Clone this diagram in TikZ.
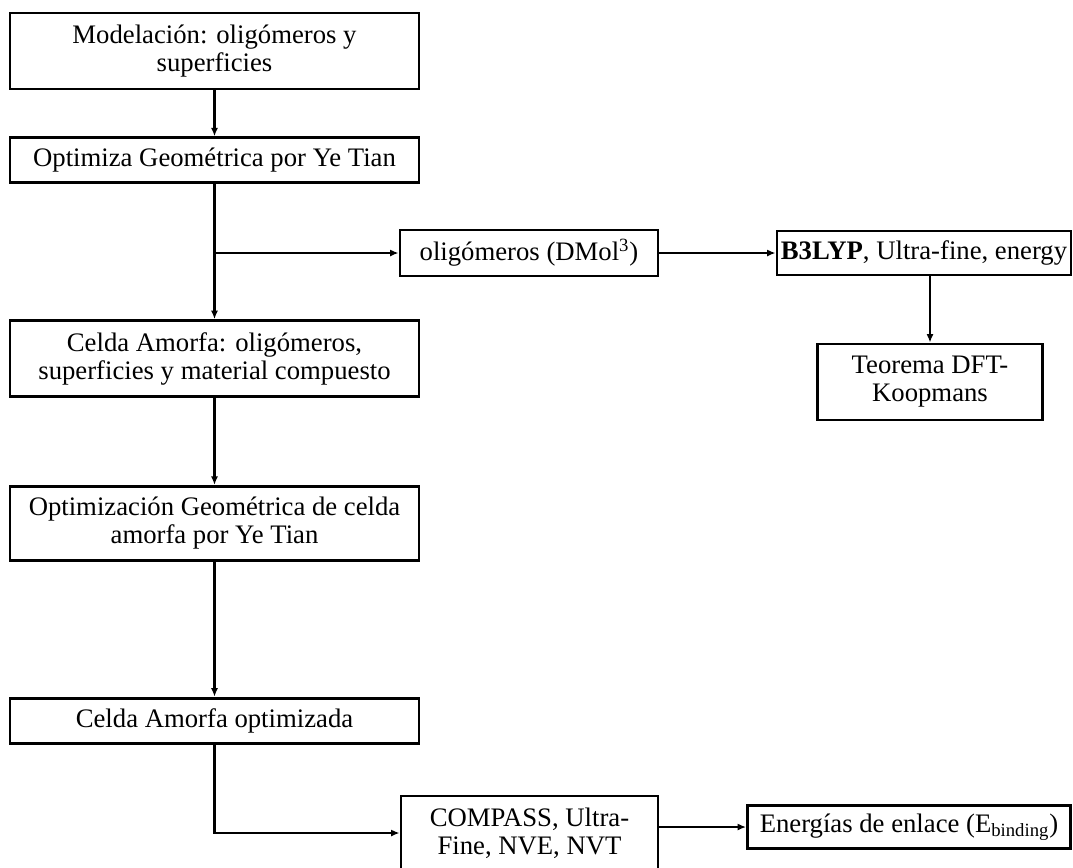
\documentclass[tikz,border=0pt]{standalone}
\usepackage{fontspec}
\setmainfont{Liberation Serif}
\usetikzlibrary{arrows.meta,positioning}

\begin{document}
\begin{tikzpicture}[
    x=0.02cm, y=-0.02cm,
    node distance=0.92cm,
    every node/.style={font=\fontsize{15.2}{16}\selectfont},
    box/.style={draw, line width=1.6pt, align=center, inner sep=2pt, minimum width=8.18cm},
    sidebox/.style={draw, line width=1.6pt, align=center, inner sep=2pt},
    flow/.style={-{Latex[length=1.7mm, width=1.4mm]}, line width=1.3pt},
    link/.style={line width=1.3pt}
]
\useasboundingbox (0,0) rectangle (1073,867);
% left column
\node[box, minimum height=1.52cm] (model) at (214.5,51) {Modelación: oligómeros y\\superficies};
\node[box, minimum height=0.9cm, below=0.92cm of model] (optim) {Optimiza Geométrica por Ye Tian};
\node[box, minimum height=1.52cm, below=2.7cm of optim] (celda) {Celda Amorfa: oligómeros,\\superficies y material compuesto};
\node[box, minimum height=1.48cm, below=1.74cm of celda] (optcelda) {Optimización Geométrica de celda\\amorfa por Ye Tian};
\node[box, minimum height=0.9cm, below=2.7cm of optcelda] (celdaopt) {Celda Amorfa optimizada};
% right side
\node[sidebox, minimum width=5.16cm, minimum height=0.92cm] (oligo) at (529,253) {oligómeros (DMol\textsuperscript{3})};
\node[sidebox, minimum width=5.88cm, minimum height=0.88cm] (b3lyp) at (924,253) {\textbf{B3LYP}, Ultra-fine, energy};
\node[sidebox, minimum width=4.5cm, minimum height=1.52cm] (teorema) at (930,382) {Teorema DFT-\\Koopmans};
\node[sidebox, minimum width=5.14cm, minimum height=1.48cm] (compass) at (529.5,833) {COMPASS, Ultra-\\Fine, NVE, NVT};
\node[sidebox, minimum width=6.46cm, minimum height=0.86cm] (enlace) at (909,827) {Energías de enlace (E\textsubscript{binding})};
\coordinate (branch) at (optim.south |- oligo.west);
% connectors
\draw[flow] (model) -- (optim);
\draw[flow] (optim) -- (celda);
\draw[flow] (branch) -- (oligo.west);
\draw[flow] (oligo) -- (b3lyp);
\draw[flow] (teorema.north |- b3lyp.south) -- (teorema.north);
\draw[flow] (celda) -- (optcelda);
\draw[flow] (optcelda) -- (celdaopt);
\draw[flow] (celdaopt.south) |- (compass.west);
\draw[flow] (compass.east |- enlace.west) -- (enlace.west);
\end{tikzpicture}
\end{document}
